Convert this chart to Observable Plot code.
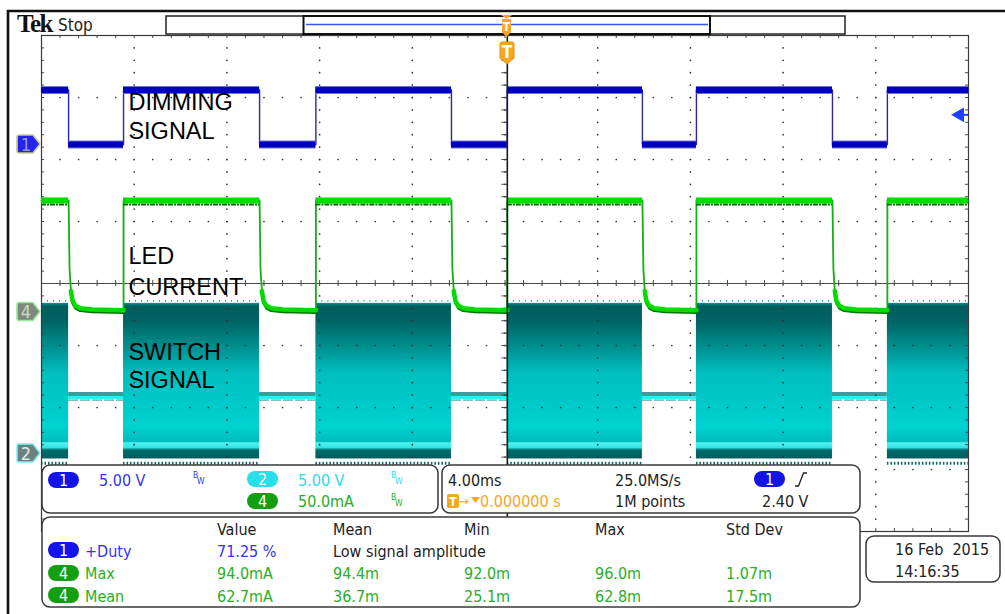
<!DOCTYPE html>
<html><head><meta charset="utf-8">
<script src="https://cdn.jsdelivr.net/npm/d3@7"></script>
<script src="https://cdn.jsdelivr.net/npm/@observablehq/plot@0.6"></script>
<style>
html,body{margin:0;padding:0;background:#fff;}
#wrap{position:relative;width:1005px;height:614px;overflow:hidden;background:#fff;}
#wrap svg{position:absolute;left:0;top:0;}
</style></head><body><div id="wrap"></div>
<script>
const timeWindowMs = [-20.1, 19.9];           // 10 div x 4.00 ms
const dimRiseMs = [-16.56, -8.26, 0, 8.16, 16.4];
const dimFallMs = [-18.93, -10.69, -2.41, 5.83, 14.03];
const dimLowV = 0;
const dimHighV = 4.4;
const ledHighMa = 90;
const ledLowMa = 1.5;
const ledDecayDtMs = [0, 0.04, 0.1, 0.17, 0.3, 0.5, 1.0];
const ledDecayMa = [90, 35, 17, 9, 5, 3, 2];
const swEnvelopeV = [-0.45, 12.1];
const swIdleV = 4.5;
const trigLevelV = 2.40;
const chVoltsPerDiv = {1: 5, 2: 5, 4: 50};
const chPosDiv = {1: 2.24, 2: -2.74, 4: -0.46};
const traceLabels = ["DIMMING", "SIGNAL", "LED", "CURRENT", "SWITCH", "SIGNAL"];
const measHeaders = ["Value", "Mean", "Min", "Max", "Std Dev"];
const measDuty = ["+Duty", "71.25 %", "Low signal amplitude"];
const measMax = ["Max", "94.0mA", "94.4m", "92.0m", "96.0m", "1.07m"];
const measMean = ["Mean", "62.7mA", "36.7m", "25.1m", "62.8m", "17.5m"];
const scaleTexts = ["5.00 V", "5.00 V", "50.0mA"];
const timeTexts = ["4.00ms", "25.0MS/s", "0.000000 s", "1M points", "2.40 V"];
const dateTexts = ["16 Feb\u00a0\u00a02015", "14:16:35"];

// ---------------- layout (not data) ----------------
const labelXms = -16.35;
const labelYdiv = [2.92, 2.46, 0.43, -0.06, -1.11, -1.56];

// ---------------- build tables ----------------
const [t0, t1] = timeWindowMs;
const divMs = (t1 - t0) / 10;
const div = (ch, v) => chPosDiv[ch] + v / chVoltsPerDiv[ch];

const events = [...dimRiseMs.map(t => ({t, high: true})), ...dimFallMs.map(t => ({t, high: false}))]
  .sort((a, b) => a.t - b.t);
const intervals = [];
{
  let cur = t0, state = !events[0].high;
  for (const e of events) { intervals.push({x1: cur, x2: e.t, high: state}); cur = e.t; state = e.high; }
  intervals.push({x1: cur, x2: t1, high: state});
}
intervals.forEach((d, i) => d.i = i);
const hi = intervals.filter(d => d.high), lo = intervals.filter(d => !d.high);

// ch1 step trace
const ch1Pts = [];
intervals.forEach(d => { const v = div(1, d.high ? dimHighV : dimLowV); ch1Pts.push({t: d.x1, y: v}, {t: d.x2, y: v}); });
const ch1Segs = intervals.map(d => ({x1: d.x1, x2: d.x2, y: div(1, d.high ? dimHighV : dimLowV)}));

// ch4 LED current trace
const ch4Pts = [], ch4Decay = [];
intervals.forEach(d => {
  if (d.high) { ch4Pts.push({t: d.x1, y: div(4, ledHighMa)}, {t: d.x2, y: div(4, ledHighMa)}); }
  else {
    ledDecayDtMs.forEach((dt, k) => {
      if (d.x1 + dt < d.x2) {
        const p = {t: d.x1 + dt, y: div(4, ledDecayMa[k]), seg: d.i};
        ch4Pts.push(p); if (k >= 2) ch4Decay.push(p);
      }
    });
    const e = {t: d.x2, y: div(4, ledLowMa), seg: d.i};
    ch4Pts.push(e); ch4Decay.push(e);
  }
});
const ch4High = hi.map(d => ({x1: d.x1, x2: d.x2, y: div(4, ledHighMa)}));

// graticule
const gx = d3.range(11).map(i => t0 + i * divMs);
const gy = d3.range(-4, 5);
const minorX = d3.range(51).map(i => t0 + i * divMs / 5);
const minorY = d3.range(41).map(i => -4 + i * 0.2);
const dots = [
  ...gx.slice(1, -1).flatMap(x => minorY.slice(1, -1).map(y => ({x, y}))),
  ...gy.slice(1, -1).flatMap(y => minorX.slice(1, -1).map(x => ({x, y})))
];
const tx = divMs * 0.033, ty = 0.05;
const xc = t0 + 5 * divMs;

const plot = Plot.plot({
  width: 1005, height: 614,
  marginTop: 35, marginRight: 37, marginBottom: 83, marginLeft: 41,
  x: {domain: timeWindowMs, axis: null},
  y: {domain: [-4, 4], axis: null},
  style: {background: "white", overflow: "visible"},
  marks: [
    // ch2 switch signal
    Plot.rect(hi, {x1: "x1", x2: "x2", y1: div(2, swEnvelopeV[0]), y2: div(2, swEnvelopeV[1]), fill: "url(#swGrad)"}),
    Plot.ruleY(hi, {x1: "x1", x2: "x2", y: div(2, -0.8), stroke: "#006a6a", strokeWidth: 3, strokeDasharray: "1.5,2"}),
    Plot.ruleY(hi, {x1: "x1", x2: "x2", y: div(2, 12.3), stroke: "#009090", strokeWidth: 1.5, strokeDasharray: "1,5"}),
    Plot.ruleY(lo, {x1: "x1", x2: "x2", y: div(2, swIdleV), dy: -3.5, stroke: "#3f9a9a", strokeWidth: 4}),
    Plot.ruleY(lo, {x1: "x1", x2: "x2", y: div(2, swIdleV), dy: 2.5, stroke: "#2a8a8a", strokeWidth: 1, strokeDasharray: "10,2"}),
    Plot.ruleY(lo, {x1: "x1", x2: "x2", y: div(2, swIdleV), stroke: "#2cecf4", strokeWidth: 3}),
    // graticule
    Plot.dot(dots, {x: "x", y: "y", r: 0.85, fill: "#333", stroke: null}),
    Plot.ruleY([0], {stroke: "#4a4a4a", strokeWidth: 1}),
    Plot.ruleX(minorX, {x: d => d, y1: -ty, y2: ty, stroke: "#4a4a4a"}),
    Plot.ruleY(minorY, {y: d => d, x1: xc - tx, x2: xc + tx, stroke: "#4a4a4a"}),
    Plot.ruleX(minorX, {x: d => d, y1: 4, y2: 4 - ty, stroke: "#4a4a4a"}),
    Plot.ruleX(minorX, {x: d => d, y1: -4, y2: -4 + ty, stroke: "#4a4a4a"}),
    Plot.ruleY(minorY, {y: d => d, x1: t0, x2: t0 + tx, stroke: "#4a4a4a"}),
    Plot.ruleY(minorY, {y: d => d, x1: t1, x2: t1 - tx, stroke: "#4a4a4a"}),
    Plot.frame({stroke: "#3a3a3a", strokeWidth: 1.2}),
    // ch4 LED current
    Plot.line(ch4Pts, {x: "t", y: "y", stroke: "#12b012", strokeWidth: 1.8}),
    Plot.line(ch4Decay, {x: "t", y: "y", z: "seg", dy: 2.5, stroke: "#007800", strokeWidth: 2.5}),
    Plot.line(ch4Decay, {x: "t", y: "y", z: "seg", stroke: "#00dc00", strokeWidth: 4.5}),
    Plot.ruleY(ch4High, {x1: "x1", x2: "x2", y: "y", dy: 4, stroke: "#006e00", strokeWidth: 2, strokeDasharray: "5,1,2,1"}),
    Plot.ruleY(ch4High, {x1: "x1", x2: "x2", y: "y", stroke: "#00dc00", strokeWidth: 6}),
    // ch1 dimming
    Plot.line(ch1Pts, {x: "t", y: "y", stroke: "#2828a8", strokeWidth: 1.4}),
    Plot.ruleY(ch1Segs, {x1: "x1", x2: "x2", y: "y", stroke: "#7070c8", strokeWidth: 8}),
    Plot.ruleY(ch1Segs, {x1: "x1", x2: "x2", y: "y", stroke: "#0000c0", strokeWidth: 6}),
    // trigger position + level
    Plot.ruleX([0], {stroke: "#1a1a1a", strokeWidth: 1.6}),
    Plot.ruleY([trigLevelV], {y: d => div(1, d), x1: t1, x2: t1 - 0.45, stroke: "#2040ff", strokeWidth: 2}),
    Plot.dot([trigLevelV], {x: t1 - 0.38, y: d => div(1, d), symbol: "triangle", rotate: -90, r: 5.5, fill: "#2040ff", stroke: null}),
    // labels
    Plot.text(traceLabels, {x: labelXms, y: (d, i) => labelYdiv[i], text: d => d, textAnchor: "start", lineAnchor: "middle",
      fontSize: 23.5, fontFamily: "Liberation Sans, Arial, sans-serif", fill: "black"})
  ]
});

const defs = d3.select(plot).insert("defs", ":first-child");
const grad = defs.append("linearGradient").attr("id", "swGrad").attr("x1", 0).attr("y1", 0).attr("x2", 0).attr("y2", 1);
[[0, "#009a9a"], [0.02, "#005c5c"], [0.12, "#006464"], [0.3, "#009494"], [0.45, "#00bebe"], [0.8, "#00d2d2"],
 [0.89, "#00bcbc"], [0.9, "#50f2f2"], [0.93, "#30e4e4"], [0.945, "#006c6c"], [1, "#005e5e"]]
  .forEach(([o, c]) => grad.append("stop").attr("offset", o).attr("stop-color", c));
document.getElementById("wrap").append(plot);

// ---------------- instrument chrome overlay ----------------
const ov = d3.select("#wrap").append("svg").attr("width", 1005).attr("height", 614).style("pointer-events", "none");
const FONT = '"DejaVu Sans Condensed", "DejaVu Sans", sans-serif';
function txt(x, y, s, fill, size = 16, opts = {}) {
  return ov.append("text").attr("x", x).attr("y", y).text(s).attr("fill", fill).attr("font-size", size)
    .attr("font-family", opts.family || FONT).attr("font-stretch", "condensed")
    .attr("font-weight", opts.weight || "normal").attr("text-anchor", opts.anchor || "start")
    .attr("letter-spacing", opts.ls || 0).style("white-space", "pre");
}
const C1 = "#3434f0", C2 = "#2edbe6", C4 = "#26b026", OR = "#f5a623", BK = "#222";

// outer frame
ov.append("path").attr("d", "M8,614 V11 H1005").attr("fill", "none").attr("stroke", "#111").attr("stroke-width", 2.6);

// header
txt(17, 32, "Tek", "#111", 25, {family: '"Liberation Serif", serif', weight: "bold", ls: "-1.5px"});
txt(58, 31, "Stop", BK, 17);
ov.append("rect").attr("x", 166).attr("y", 16).attr("width", 679).attr("height", 18).attr("fill", "white").attr("stroke", "#222").attr("stroke-width", 1.5);
ov.append("rect").attr("x", 303.5).attr("y", 16).attr("width", 406.5).attr("height", 18).attr("fill", "none").attr("stroke", "#111").attr("stroke-width", 2);
ov.append("line").attr("x1", 306).attr("x2", 708).attr("y1", 24.5).attr("y2", 24.5).attr("stroke", "#3a55ee").attr("stroke-width", 1.6);
// trigger markers
ov.append("path").attr("d", "M501,15 H512 L506.5,19 Z M502,19 H511 V32 H502 Z M502,32 H511 L506.5,37 Z").attr("fill", OR);
txt(506.5, 30.5, "T", "white", 12, {anchor: "middle", weight: "bold"});
ov.append("path").attr("d", "M500,44 Q500,42 502,42 H512 Q514,42 514,44 V58 L507,64 L500,58 Z").attr("fill", OR).attr("stroke", "#e09010");
txt(507, 58, "T", "white", 17, {anchor: "middle", weight: "bold"});

// channel markers
function marker(cy, fill, stroke, tfill, label) {
  ov.append("path").attr("d", `M19,${cy - 9} H33 L40,${cy} L33,${cy + 9} H19 Q17,${cy + 9} 17,${cy + 7} V${cy - 7} Q17,${cy - 9} 19,${cy - 9} Z`)
    .attr("fill", fill).attr("stroke", stroke).attr("stroke-width", 1.6);
  txt(26, cy + 6.5, label, tfill, 18, {anchor: "middle"});
}
marker(144, "#2424ee", "#c8c890", "#9a9ac8", "1");
marker(311.5, "#7c8a7c", "#98ec98", "#c8dcc8", "4");
marker(453, "#6f8080", "#80eef0", "#d8ecec", "2");

// panels
function panel(x, y, w, h) {
  ov.append("rect").attr("x", x).attr("y", y).attr("width", w).attr("height", h).attr("rx", 8)
    .attr("fill", "white").attr("stroke", "#3a3a3a").attr("stroke-width", 1.5);
}
function pill(x, cy, label, fill) {
  ov.append("rect").attr("x", x).attr("y", cy - 8).attr("width", 31).attr("height", 16).attr("rx", 8).attr("fill", fill);
  txt(x + 15.5, cy + 6, label, "white", 16, {anchor: "middle"});
}
function bw(x, y, fill) { txt(x, y - 4, "B", fill, 8.5); txt(x + 4, y + 2, "W", fill, 8.5); }
panel(42, 465, 396, 48);
panel(442, 465, 418, 48);
panel(42, 517, 818, 90);
panel(866, 536, 134, 46);

pill(48, 480, "1", "#1414e6");
txt(99, 486, scaleTexts[0], C1);
bw(193, 482, C1);
pill(247, 479, "2", "#26dfe8");
txt(298, 486, scaleTexts[1], C2);
bw(391, 482, C2);
pill(247, 501, "4", "#12a012");
txt(298, 507, scaleTexts[2], C4);
bw(391, 504, C4);

txt(448, 486, timeTexts[0], BK);
txt(615, 486, timeTexts[1], BK);
pill(754, 479, "1", "#1414e6");
ov.append("path").attr("d", "M795,486 H798.5 L803.5,473 H807").attr("fill", "none").attr("stroke", BK).attr("stroke-width", 1.3);
ov.append("rect").attr("x", 447).attr("y", 494).attr("width", 12).attr("height", 14).attr("rx", 2).attr("fill", OR);
txt(453, 506, "T", "white", 12, {anchor: "middle", weight: "bold"});
txt(459, 506, "\u2192", OR, 13);
ov.append("path").attr("d", "M471,497 H480 L475.5,503 Z").attr("fill", OR);
txt(480, 507, timeTexts[2], OR);
txt(615, 507, timeTexts[3], BK);
txt(762, 507, timeTexts[4], BK);

const colX = [217, 333, 464, 595, 726];
measHeaders.forEach((h, i) => txt(colX[i], 535, h, BK));
pill(48, 550, "1", "#1414e6");
txt(85, 557, measDuty[0], C1);
txt(217, 557, measDuty[1], C1);
txt(333, 557, measDuty[2], BK);
pill(48, 573, "4", "#12a012");
txt(85, 579, measMax[0], C4);
measMax.slice(1).forEach((v, i) => txt(colX[i], 579, v, C4));
pill(48, 595, "4", "#12a012");
txt(85, 602, measMean[0], C4);
measMean.slice(1).forEach((v, i) => txt(colX[i], 602, v, C4));

txt(895, 555, dateTexts[0], BK);
txt(895, 577, dateTexts[1], BK);
</script></body></html>
